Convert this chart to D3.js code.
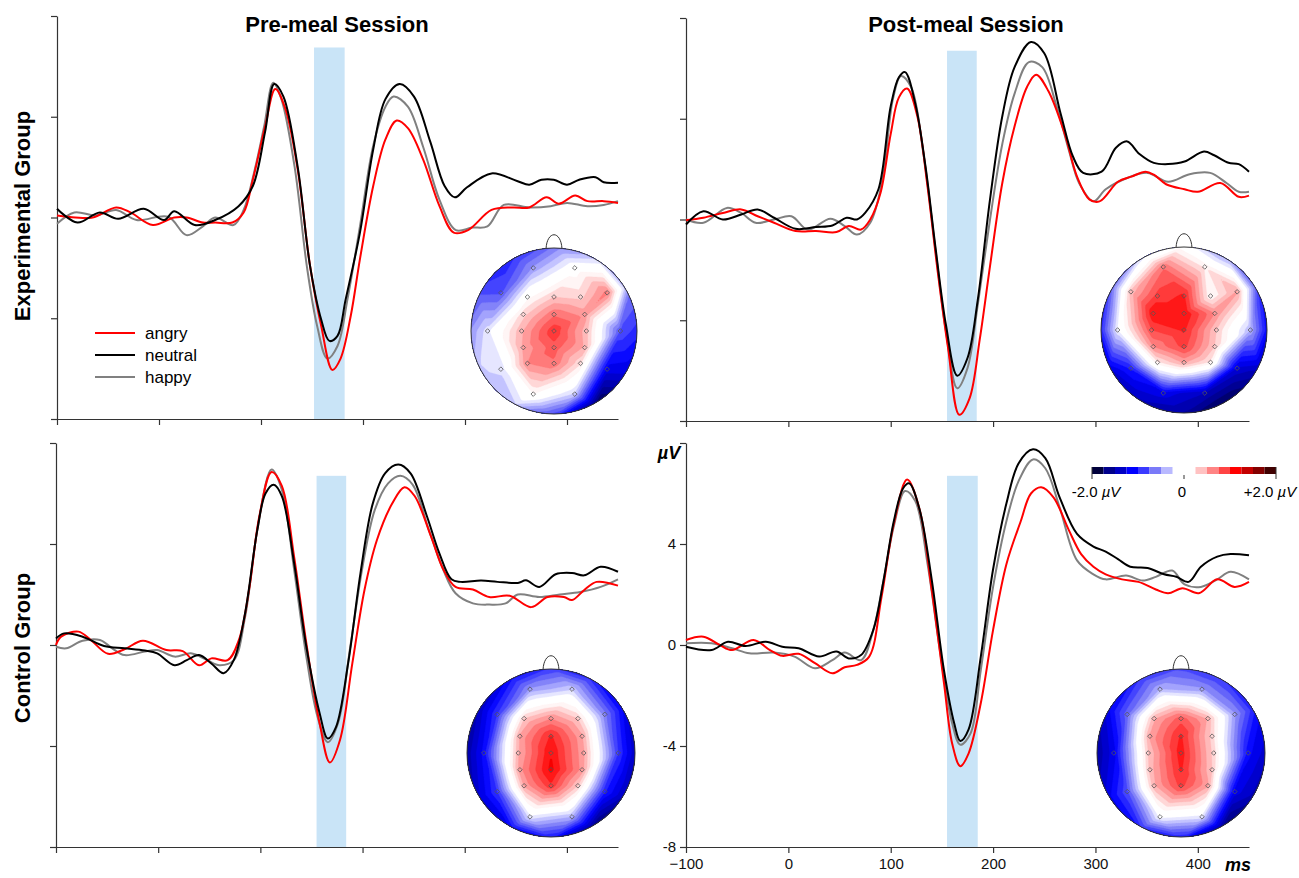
<!DOCTYPE html>
<html>
<head>
<meta charset="utf-8">
<script src="https://cdn.jsdelivr.net/npm/d3@7"></script>
<style>
  body { margin: 0; background: #fff; }
  svg { display: block; font-family: Arial, "Liberation Sans", sans-serif; }
  .axis path, .axis line { stroke: #333; stroke-width: 1.2; }
  .axis text { font-size: 15px; fill: #111; }
</style>
</head>
<body>
<script>
// ERP waveforms, [ms, microvolt]
var expPreAngry = [[-100,0.08],[-82,0.0],[-65,0.0],[-42,0.4],[-28,0.2],[-6,-0.3],[15,0.0],[27,0.0],[43,-0.2],[55,-0.2],[72,-0.2],[83,0.2],[92,1.5],[104,3.6],[114,5.1],[124,4.3],[136,1.9],[148,-1.9],[159,-4.3],[170,-6.05],[178,-5.6],[188,-3.9],[197,-1.65],[210,1.25],[222,3.1],[233,3.85],[244,3.55],[259,2.3],[275,0.45],[289,-0.6],[303,-0.5],[326,0.3],[347,0.4],[363,0.4],[380,0.8],[392,0.55],[408,0.87],[420,0.65],[436,0.65],[450,0.58]];
var expPreNeutral = [[-100,0.35],[-80,-0.2],[-58,0.2],[-40,-0.05],[-15,0.35],[5,-0.1],[15,0.25],[35,-0.3],[55,-0.1],[78,0.45],[92,1.25],[104,3.4],[113,5.3],[122,4.8],[136,2.0],[148,-1.9],[159,-4.05],[167,-4.9],[175,-4.7],[183,-3.25],[197,-0.6],[210,2.7],[222,4.7],[236,5.3],[250,4.8],[266,3.0],[280,1.25],[290,0.8],[302,1.2],[326,1.75],[351,1.45],[363,1.3],[375,1.5],[387,1.5],[400,1.3],[412,1.5],[428,1.6],[436,1.4],[450,1.38]];
var expPreHappy = [[-100,-0.25],[-83,0.2],[-62,0.08],[-42,0.3],[-22,-0.1],[9,0.03],[27,-0.7],[43,-0.35],[55,0.0],[73,-0.3],[83,0.3],[93,1.75],[103,3.6],[112,5.35],[120,4.7],[133,2.0],[145,-1.95],[155,-4.3],[165,-5.6],[175,-5.1],[185,-3.2],[197,-0.35],[210,2.85],[222,4.4],[230,4.8],[244,4.4],[259,2.8],[275,0.7],[291,-0.5],[307,-0.4],[322,-0.35],[338,0.5],[363,0.4],[384,0.45],[400,0.58],[420,0.45],[436,0.5],[450,0.65]];

var expPostAngry = [[-100,-0.03],[-83,0.07],[-64,0.26],[-46,0.4],[-30,0.13],[-14,-0.13],[7,-0.46],[27,-0.46],[47,-0.5],[59,-0.26],[71,-0.4],[80,0.0],[90,1.05],[100,3.4],[108,4.85],[116,5.2],[126,4.1],[136,1.3],[146,-2.1],[156,-5.1],[167,-7.75],[177,-7.1],[187,-4.75],[197,-1.85],[209,1.45],[221,3.7],[233,5.25],[242,5.75],[254,5.1],[270,3.4],[282,1.7],[294,0.8],[304,0.72],[322,1.5],[335,1.7],[349,1.9],[357,1.78],[369,1.4],[387,1.2],[400,1.1],[422,1.45],[440,0.9],[450,0.95]];
var expPostNeutral = [[-100,-0.2],[-83,0.33],[-64,0.0],[-46,0.2],[-30,0.4],[-14,0.07],[7,-0.37],[27,-0.3],[43,-0.24],[57,0.07],[67,0.0],[75,0.26],[88,1.2],[100,4.5],[108,5.65],[114,5.85],[124,4.6],[134,2.1],[144,-1.2],[154,-4.2],[165,-6.2],[175,-5.5],[185,-3.2],[197,0.8],[209,4.1],[221,6.05],[237,7.05],[250,6.6],[266,4.2],[278,2.5],[288,1.85],[306,1.9],[320,2.85],[331,3.1],[343,2.6],[357,2.25],[371,2.2],[387,2.3],[406,2.7],[416,2.55],[430,2.25],[440,2.2],[450,1.9]];
var expPostHappy = [[-100,0.0],[-83,-0.13],[-60,0.46],[-46,0.26],[-32,-0.13],[-14,0.0],[3,0.13],[19,-0.4],[41,0.03],[55,-0.26],[67,-0.6],[80,-0.13],[92,1.6],[102,4.75],[110,5.7],[120,5.25],[132,2.6],[144,-1.3],[154,-4.45],[165,-6.7],[175,-5.9],[185,-3.4],[197,0.0],[209,3.0],[221,5.0],[235,6.25],[248,6.05],[262,4.5],[274,2.75],[284,1.45],[298,0.72],[310,1.2],[331,1.65],[351,1.85],[371,1.5],[392,1.8],[412,1.85],[428,1.45],[440,1.1],[450,1.1]];

var ctrlPreAngry = [[-100,0.0],[-95,0.33],[-78,0.53],[-66,0.2],[-49,-0.35],[-33,-0.17],[-15,0.17],[8,-0.2],[24,-0.24],[40,-0.8],[52,-0.53],[68,-0.6],[79,0.2],[89,2.2],[99,5.1],[111,6.85],[121,6.3],[133,3.5],[145,0.07],[158,-3.1],[168,-4.65],[178,-3.75],[190,-0.73],[202,2.2],[214,4.15],[229,5.6],[241,6.25],[251,5.9],[267,4.3],[279,3.0],[291,2.3],[308,2.2],[324,1.9],[344,1.95],[365,1.5],[381,1.9],[397,1.9],[405,1.78],[417,2.18],[429,2.5],[450,2.35]];
var ctrlPreNeutral = [[-100,0.26],[-92,0.46],[-74,0.33],[-53,-0.04],[-33,-0.13],[-13,-0.22],[-1,-0.33],[16,-0.8],[28,-0.6],[40,-0.4],[52,-0.73],[64,-1.12],[74,-0.6],[85,1.25],[97,4.55],[105,6.0],[113,6.35],[121,5.9],[133,3.25],[145,-0.07],[158,-2.7],[166,-3.7],[174,-3.25],[186,-0.7],[198,2.85],[210,5.6],[222,6.8],[235,7.15],[247,6.8],[263,5.1],[275,3.65],[287,2.6],[296,2.5],[316,2.55],[332,2.5],[352,2.46],[360,2.56],[373,2.3],[389,2.8],[405,2.85],[417,2.76],[433,3.1],[450,2.9]];
var ctrlPreHappy = [[-100,-0.07],[-90,-0.13],[-74,0.17],[-57,0.2],[-45,-0.13],[-33,-0.4],[-13,-0.26],[-1,-0.2],[16,-0.46],[32,-0.33],[48,-0.6],[60,-0.8],[74,-0.6],[85,1.1],[97,4.55],[111,6.95],[121,6.15],[133,3.0],[145,-0.46],[156,-2.85],[166,-3.85],[176,-3.1],[188,-0.07],[200,3.1],[212,5.35],[225,6.4],[237,6.7],[249,6.35],[265,4.55],[279,2.98],[291,2.05],[308,1.65],[324,1.6],[340,1.65],[352,2.0],[373,1.9],[393,2.0],[413,2.1],[433,2.3],[450,2.6]];

var ctrlPostAngry = [[-100,0.2],[-83,0.33],[-67,0.0],[-55,-0.2],[-34,0.2],[-18,-0.2],[-6,-0.43],[10,-0.35],[26,-0.72],[43,-1.12],[55,-0.88],[67,-0.79],[79,-0.46],[91,1.9],[103,4.8],[116,6.55],[128,5.4],[140,2.2],[152,-1.5],[160,-3.9],[168,-4.8],[176,-4.3],[188,-2.3],[200,0.6],[213,3.2],[227,4.9],[237,6.0],[247,6.25],[259,5.85],[274,4.55],[286,3.6],[298,3.1],[310,2.8],[326,2.6],[342,2.5],[359,2.2],[371,2.05],[385,2.25],[401,2.05],[419,2.6],[436,2.3],[450,2.5]];
var ctrlPostNeutral = [[-100,-0.07],[-75,-0.2],[-59,0.13],[-42,-0.04],[-22,0.13],[-6,-0.07],[10,-0.13],[30,-0.46],[47,-0.26],[59,-0.53],[71,-0.4],[83,0.6],[93,2.56],[103,4.9],[112,6.2],[118,6.4],[128,5.4],[140,2.6],[152,-1.0],[162,-3.1],[168,-3.8],[176,-3.35],[188,-0.46],[200,3.0],[213,5.6],[225,7.2],[239,7.75],[251,7.4],[265,5.85],[282,4.4],[298,3.9],[310,3.7],[322,3.4],[334,3.1],[351,3.05],[367,2.8],[379,2.7],[391,2.5],[403,3.1],[419,3.5],[432,3.6],[450,3.55]];
var ctrlPostHappy = [[-100,0.07],[-75,0.07],[-55,-0.13],[-38,-0.33],[-14,-0.3],[6,-0.46],[26,-0.92],[43,-0.6],[55,-0.3],[71,-0.6],[83,0.6],[93,2.56],[103,4.7],[114,6.1],[124,5.7],[136,3.2],[148,-0.2],[160,-3.1],[168,-3.95],[178,-3.5],[188,-0.99],[200,2.3],[213,4.9],[225,6.5],[239,7.35],[251,7.0],[265,5.45],[282,3.35],[298,2.8],[310,2.6],[330,2.75],[346,2.55],[359,2.7],[375,2.95],[387,2.4],[403,2.3],[419,2.6],[432,2.9],[450,2.6]];

// shaded N170 window [start ms, end ms, top microvolt]
var expPreBand = [152, 182, 6.75];
var expPostBand = [155, 184, 6.7];
var ctrlPreBand = [155, 184, 6.7];
var ctrlPostBand = [155, 185, 6.7];

// axis ticks
var xTicks = [-100, 0, 100, 200, 300, 400];
var yTicks = [-8, -4, 0, 4, 8];

// emotions
var emotions = ["angry", "neutral", "happy"];
var emotionColors = {angry: "#ff0000", neutral: "#000000", happy: "#808080"};

// electrode layout (unit head radius)
var electrodes = [
  ["Fp1",-0.25,-0.76],["Fp2",0.25,-0.76],
  ["F7",-0.64,-0.46],["F3",-0.32,-0.41],["Fz",0,-0.41],["F4",0.32,-0.41],["F8",0.64,-0.46],
  ["FC3",-0.37,-0.2],["FCz",0,-0.2],["FC4",0.37,-0.2],
  ["T7",-0.8,0],["C3",-0.39,0],["Cz",0,0],["C4",0.39,0],["T8",0.8,0],
  ["CP3",-0.37,0.2],["CPz",0,0.2],["CP4",0.37,0.2],
  ["P7",-0.64,0.46],["P3",-0.32,0.39],["Pz",0,0.39],["P4",0.32,0.39],["P8",0.64,0.46],
  ["O1",-0.25,0.76],["O2",0.25,0.76]
];

// topography values at the electrodes (same order) and at the scalp rim (every 30 deg, clockwise from nose)
var expPreTopo = [-0.5,0.0, -0.8,0.05,0.35,0.3,0.65, 0.3,0.7,0.55, -0.2,0.45,0.95,0.4,-0.8, 0.5,0.8,0.45, -0.25,0.6,0.7,0.25,-1.2, 0.1,-0.3];
var expPreRim = [-0.7,-0.4,-0.6,-1.0,-1.3,-1.9,-1.0,-0.4,-0.3,-0.6,-0.9,-1.0];
var expPostTopo = [0.7,0.2, 0.4,0.9,1.0,0.1,0.5, 1.1,1.1,0.6, -0.15,0.85,1.0,0.35,-0.4, 0.6,0.9,0.35, -1.0,0.2,0.5,0.2,-1.3, -1.2,-1.4];
var expPostRim = [-0.1,-0.6,-1.0,-1.3,-1.5,-1.9,-1.6,-1.5,-1.4,-1.2,-0.9,-0.4];
var ctrlPreTopo = [-0.5,-0.3, -0.9,0.35,0.6,0.35,-0.6, 0.5,1.0,0.5, -1.1,0.45,1.1,0.5,-0.9, 0.55,1.15,0.55, -0.9,0.5,0.95,0.35,-1.0, -0.2,-0.4];
var ctrlPreRim = [-1.0,-1.1,-1.3,-1.5,-1.5,-1.8,-1.2,-1.3,-1.4,-1.6,-1.5,-1.2];
var ctrlPostTopo = [-0.4,-0.5, -0.7,0.45,0.8,0.45,-0.5, 0.5,1.0,0.3, -1.2,0.35,1.05,0.3,-1.1, 0.4,1.0,0.35, -0.8,0.45,0.9,0.5,-1.2, -0.1,-0.2];
var ctrlPostRim = [-0.9,-1.0,-1.1,-1.4,-1.5,-1.8,-1.2,-1.1,-1.3,-1.6,-1.3,-1.0];

// colour bar steps (0.25 microvolt each)
var barBlue = ["#00003c","#00008c","#0000c4","#0000ff","#3a3aff","#7a7af8","#b9b9ff"];
var barRed = ["#ffc2c2","#ff8484","#ff4444","#ff0000","#c40000","#840000","#400000"];

var width = 1299, height = 878;
var svg = d3.select("body").append("svg")
            .attr("width", width)
            .attr("height", height);

var panels = [
  {id: "expPre", left: 57, right: 618, top: 16, bottom: 419, band: expPreBand,
   series: {angry: expPreAngry, neutral: expPreNeutral, happy: expPreHappy},
   topo: expPreTopo, rim: expPreRim, head: [554, 331, 83], labels: false},
  {id: "expPost", left: 686, right: 1249, top: 18, bottom: 421, band: expPostBand,
   series: {angry: expPostAngry, neutral: expPostNeutral, happy: expPostHappy},
   topo: expPostTopo, rim: expPostRim, head: [1184, 330, 83], labels: false},
  {id: "ctrlPre", left: 56, right: 618, top: 443, bottom: 847, band: ctrlPreBand,
   series: {angry: ctrlPreAngry, neutral: ctrlPreNeutral, happy: ctrlPreHappy},
   topo: ctrlPreTopo, rim: ctrlPreRim, head: [551, 753, 84], labels: false},
  {id: "ctrlPost", left: 686, right: 1249, top: 443, bottom: 847, band: ctrlPostBand,
   series: {angry: ctrlPostAngry, neutral: ctrlPostNeutral, happy: ctrlPostHappy},
   topo: ctrlPostTopo, rim: ctrlPostRim, head: [1181, 753, 84], labels: true}
];

// topography colours follow the colour bar
var topoColor = d3.scaleLinear()
  .domain([-1.875, -1.625, -1.375, -1.125, -0.875, -0.625, -0.375, -0.12, 0.12, 0.375, 0.625, 0.875, 1.125, 1.375, 1.625, 1.875])
  .range(barBlue.concat(["#ffffff", "#ffffff"], barRed))
  .clamp(true);
var thresholds = d3.range(-2.4, 2.41, 0.125);
thresholds.unshift(-20);

var gridN = 100, span = 1.1;

// linear interpolation over a Delaunay triangulation of electrodes + rim
function topoGrid(values, rim) {
  var pts = electrodes.map(function(e, i) { return [e[1], e[2], values[i]]; });
  rim.forEach(function(v, i) {
    var a = i * Math.PI / 6;
    pts.push([Math.sin(a) * 1.06, -Math.cos(a) * 1.06, v]);
  });
  var del = d3.Delaunay.from(pts, function(p) { return p[0]; }, function(p) { return p[1]; });
  var tri = del.triangles;
  var grid = new Array(gridN * gridN);
  for (var j = 0; j < gridN; j++) {
    for (var i = 0; i < gridN; i++) {
      var gx = -span + 2 * span * (i + 0.5) / gridN;
      var gy = -span + 2 * span * (j + 0.5) / gridN;
      var val = null;
      for (var t = 0; t < tri.length; t += 3) {
        var a = pts[tri[t]], b = pts[tri[t + 1]], c = pts[tri[t + 2]];
        var det = (b[1] - c[1]) * (a[0] - c[0]) + (c[0] - b[0]) * (a[1] - c[1]);
        var l1 = ((b[1] - c[1]) * (gx - c[0]) + (c[0] - b[0]) * (gy - c[1])) / det;
        var l2 = ((c[1] - a[1]) * (gx - c[0]) + (a[0] - c[0]) * (gy - c[1])) / det;
        var l3 = 1 - l1 - l2;
        if (l1 >= -1e-6 && l2 >= -1e-6 && l3 >= -1e-6) {
          val = l1 * a[2] + l2 * b[2] + l3 * c[2];
          break;
        }
      }
      if (val === null) val = pts[del.find(gx, gy)][2];
      grid[j * gridN + i] = val;
    }
  }
  return grid;
}

function drawTopo(p) {
  var cx = p.head[0], cy = p.head[1], r = p.head[2];
  var g = svg.append("g").attr("class", "topo");

  // nose
  g.append("path")
   .attr("d", "M" + (cx - 8) + "," + (cy - r + 1) +
              " C" + (cx - 7) + "," + (cy - r - 18) + " " + (cx + 7) + "," + (cy - r - 18) + " " + (cx + 8) + "," + (cy - r + 1))
   .attr("fill", "#fff").attr("stroke", "#333").attr("stroke-width", 1);

  svg.append("clipPath").attr("id", "clip-" + p.id)
     .append("circle").attr("cx", cx).attr("cy", cy).attr("r", r);

  var grid = topoGrid(p.topo, p.rim);
  var contours = d3.contours().size([gridN, gridN]).thresholds(thresholds)(grid);
  var toPx = d3.scaleLinear().domain([0, gridN]).range([-span * r, span * r]);
  var proj = d3.geoTransform({
    point: function(x, y) { this.stream.point(cx + toPx(x), cy + toPx(y)); }
  });

  g.append("g").attr("clip-path", "url(#clip-" + p.id + ")")
   .selectAll("path")
   .data(contours)
   .enter().append("path")
   .attr("d", d3.geoPath(proj))
   .attr("fill", function(d, i) {
     var v = i === 0 ? -3 : d.value + 0.0625;
     return topoColor(v);
   })
   .attr("stroke", function(d, i) {
     var v = i === 0 ? -3 : d.value + 0.0625;
     return topoColor(v);
   })
   .attr("stroke-width", 0.3);

  g.append("circle").attr("cx", cx).attr("cy", cy).attr("r", r)
   .attr("fill", "none").attr("stroke", "#333").attr("stroke-width", 1);

  g.selectAll(".elec")
   .data(electrodes)
   .enter().append("path")
   .attr("class", "elec")
   .attr("transform", function(d) { return "translate(" + (cx + d[1] * r) + "," + (cy + d[2] * r) + ")"; })
   .attr("d", "M0,-2.3L2.3,0L0,2.3L-2.3,0Z")
   .attr("fill", "none").attr("stroke", "#555").attr("stroke-width", 0.8);
}

panels.forEach(function(p) {
  var x = d3.scaleLinear().domain([-100, 450]).range([p.left, p.right]);
  var y = d3.scaleLinear().domain([-8, 8]).range([p.bottom, p.top]);

  // shaded window
  svg.append("rect")
     .attr("x", x(p.band[0]))
     .attr("width", x(p.band[1]) - x(p.band[0]))
     .attr("y", y(p.band[2]))
     .attr("height", y(-8) - y(p.band[2]))
     .attr("fill", "#c9e4f7");

  drawTopo(p);

  var xAxis = d3.axisBottom(x).tickValues(xTicks).tickSize(6).tickSizeOuter(0).tickPadding(5)
                .tickFormat(p.labels ? d3.format("d") : "");
  var yAxis = d3.axisLeft(y).tickValues(yTicks).tickSize(6).tickSizeOuter(0).tickPadding(4)
                .tickFormat(function(d) { return (p.labels && d !== 8) ? d : ""; });

  svg.append("g").attr("class", "axis")
     .attr("transform", "translate(0," + p.bottom + ")")
     .call(xAxis);
  svg.append("g").attr("class", "axis")
     .attr("transform", "translate(" + p.left + ",0)")
     .call(yAxis);

  var line = d3.line()
    .x(function(d) { return x(d[0]); })
    .y(function(d) { return y(d[1]); })
    .curve(d3.curveCatmullRom.alpha(0.5));

  ["happy", "angry", "neutral"].forEach(function(e) {
    svg.append("path")
       .datum(p.series[e])
       .attr("d", line)
       .attr("fill", "none")
       .attr("stroke", emotionColors[e])
       .attr("stroke-width", 2)
       .attr("stroke-linejoin", "round");
  });

  if (p.labels) {
    svg.append("text")
       .attr("x", 669).attr("y", 459)
       .attr("text-anchor", "middle")
       .style("font-size", "18px").style("font-weight", "bold").style("font-style", "italic")
       .text("\u00b5V");
    svg.append("text")
       .attr("x", 1238).attr("y", 871)
       .attr("text-anchor", "middle")
       .style("font-size", "18px").style("font-weight", "bold").style("font-style", "italic")
       .text("ms");
  }
});

// titles
svg.append("text").attr("x", 337).attr("y", 32).attr("text-anchor", "middle")
   .style("font-size", "22px").style("font-weight", "bold").text("Pre-meal Session");
svg.append("text").attr("x", 966).attr("y", 32).attr("text-anchor", "middle")
   .style("font-size", "22px").style("font-weight", "bold").text("Post-meal Session");

svg.append("text").attr("transform", "translate(30,216) rotate(-90)")
   .attr("text-anchor", "middle")
   .style("font-size", "22px").style("font-weight", "bold").text("Experimental Group");
svg.append("text").attr("transform", "translate(30,648) rotate(-90)")
   .attr("text-anchor", "middle")
   .style("font-size", "22px").style("font-weight", "bold").text("Control Group");

// legend
var legend = svg.selectAll(".legend")
  .data(emotions)
  .enter().append("g")
  .attr("class", "legend")
  .attr("transform", function(d, i) { return "translate(95," + (333 + i * 22) + ")"; });
legend.append("line")
  .attr("x1", 0).attr("x2", 40)
  .attr("stroke", function(d) { return emotionColors[d]; })
  .attr("stroke-width", 2);
legend.append("text")
  .attr("x", 50).attr("y", 6)
  .style("font-size", "17px")
  .text(function(d) { return d; });

// colour bar
var barX = d3.scaleLinear().domain([-2, 2]).range([1092, 1276]);
var barY = 467, barH = 7;
var blueSteps = barBlue.map(function(c, i) { return {c: c, v0: -2 + i * 0.25}; });
var redSteps = barRed.map(function(c, i) { return {c: c, v0: 0.25 + i * 0.25}; });
svg.selectAll(".bar")
   .data(blueSteps.concat(redSteps))
   .enter().append("rect")
   .attr("class", "bar")
   .attr("x", function(d) { return barX(d.v0); })
   .attr("width", barX(0.25) - barX(0))
   .attr("y", barY).attr("height", barH)
   .attr("fill", function(d) { return d.c; });
[-2, 2].forEach(function(v) {
  svg.append("line").attr("x1", barX(v)).attr("x2", barX(v))
     .attr("y1", barY).attr("y2", barY + 12).attr("stroke", "#333").attr("stroke-width", 1);
});
svg.append("line").attr("x1", barX(0)).attr("x2", barX(0))
   .attr("y1", barY + 8).attr("y2", barY + 12).attr("stroke", "#333").attr("stroke-width", 1);

var barLabels = [[-2, "-2.0 "], [0, "0"], [2, "+2.0 "]];
barLabels.forEach(function(b) {
  var t = svg.append("text")
     .attr("x", barX(b[0]) + (b[0] === 0 ? -2 : 0) + (b[0] === 2 ? -6 : (b[0] === -2 ? 4 : 0)))
     .attr("y", 497)
     .attr("text-anchor", "middle")
     .style("font-size", "15px")
     .text(b[1]);
  if (b[0] !== 0) {
    t.append("tspan").style("font-style", "italic").text("\u00b5V");
  }
});
</script>
</body>
</html>
